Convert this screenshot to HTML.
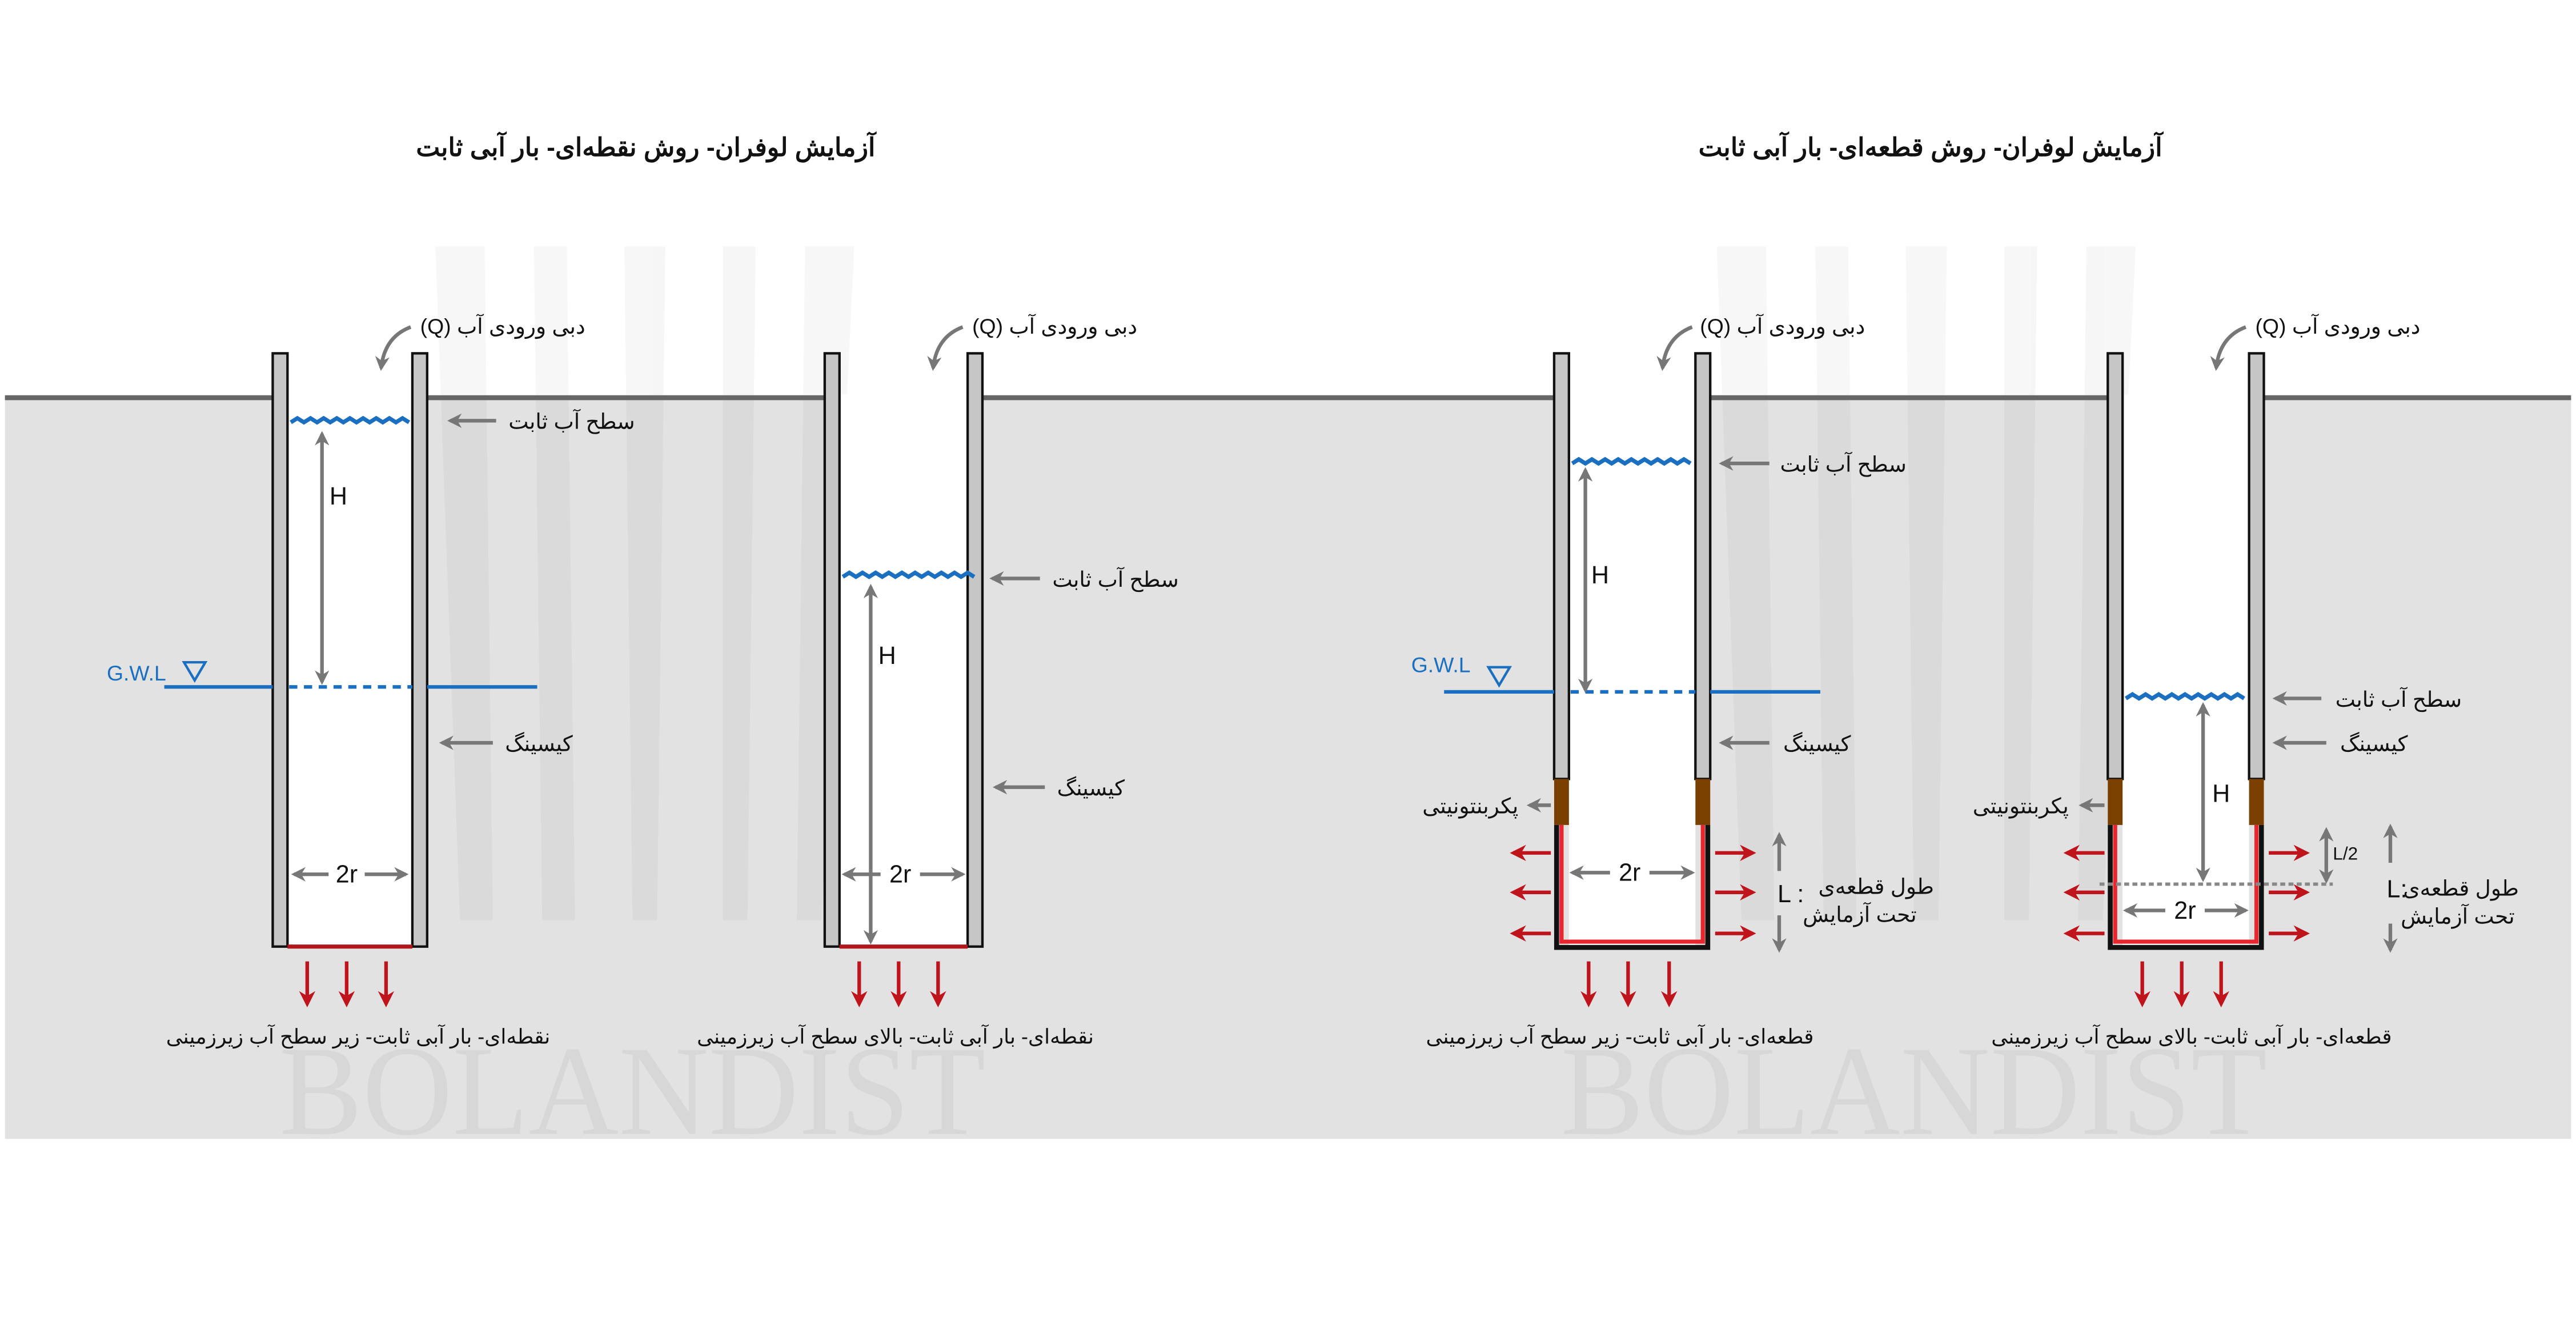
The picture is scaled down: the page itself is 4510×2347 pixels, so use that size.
<!DOCTYPE html>
<html><head><meta charset="utf-8"><style>html,body{margin:0;padding:0;background:#fff}svg{display:block}</style></head><body>
<svg width="4510" height="2347" viewBox="0 0 1568 816" preserveAspectRatio="none" xmlns="http://www.w3.org/2000/svg" font-family="'Liberation Sans','Noto Sans CJK SC',sans-serif">
<defs>
<marker id="ag" viewBox="0 0 10 10" refX="8" refY="5" markerWidth="4" markerHeight="4" orient="auto-start-reverse"><path d="M0 0 L10 5 L0 10 L3 5z" fill="#777"/></marker>
<marker id="ar" viewBox="0 0 10 10" refX="8" refY="5" markerWidth="4.5" markerHeight="4.5" orient="auto-start-reverse"><path d="M0 0 L10 5 L0 10 L3 5z" fill="#c0141c"/></marker>
</defs>
<rect x="3" y="242" width="1562" height="451" fill="#e2e2e2"/>
<!-- watermark -->
<g fill="#000" opacity="0.03">
<polygon points="265,150 295,150 300,560 280,560"/><polygon points="325,150 345,150 350,560 330,560"/><polygon points="380,150 405,150 400,560 385,560"/><polygon points="440,150 460,150 455,560 440,560"/><polygon points="490,150 520,150 500,560 485,560"/>
<polygon points="1045,150 1075,150 1080,560 1060,560"/><polygon points="1105,150 1125,150 1130,560 1110,560"/><polygon points="1160,150 1185,150 1180,560 1165,560"/><polygon points="1220,150 1240,150 1235,560 1220,560"/><polygon points="1270,150 1300,150 1280,560 1265,560"/>
</g>
<text x="385" y="690" font-family="'Liberation Serif',serif" font-size="78" fill="#000" opacity="0.045" text-anchor="middle" textLength="430" lengthAdjust="spacingAndGlyphs">BOLANDIST</text>
<text x="1165" y="690" font-family="'Liberation Serif',serif" font-size="78" fill="#000" opacity="0.045" text-anchor="middle" textLength="430" lengthAdjust="spacingAndGlyphs">BOLANDIST</text>
<line x1="3" y1="242" x2="1565" y2="242" stroke="#666" stroke-width="3"/>

<g font-weight="bold" font-size="15.5" text-anchor="middle" direction="rtl" fill="#111">
<text x="393" y="95">آزمایش لوفران- روش نقطه‌ای- بار آبی ثابت</text>
<text x="1175" y="95">آزمایش لوفران- روش قطعه‌ای- بار آبی ثابت</text>
</g>

<g fill="#fff">
<rect x="175" y="240" width="76" height="336"/>
<rect x="511" y="240" width="78" height="336"/>
<rect x="955" y="240" width="77" height="336"/>
<rect x="1292" y="240" width="77" height="336"/>
</g>
<g fill="#c6c6c6" stroke="#111" stroke-width="1.5">
<rect x="166" y="215" width="9" height="361"/><rect x="251" y="215" width="9" height="361"/>
<rect x="502" y="215" width="9" height="361"/><rect x="589" y="215" width="9" height="361"/>
<rect x="946" y="215" width="9" height="259"/><rect x="1032" y="215" width="9" height="259"/>
<rect x="1283" y="215" width="9" height="259"/><rect x="1369" y="215" width="9" height="259"/>
</g>
<g fill="#7b3f00">
<rect x="946" y="474" width="9" height="28"/><rect x="1032" y="474" width="9" height="28"/>
<rect x="1283" y="474" width="9" height="28"/><rect x="1369" y="474" width="9" height="28"/>
</g>
<path d="M947.5 502 V576.5 H1039.5 V502" fill="none" stroke="#111" stroke-width="3"/>
<path d="M950.5 502 V573 H1036.5 V502" fill="none" stroke="#e8262e" stroke-width="2.5"/>
<path d="M1284.5 502 V576.5 H1376.5 V502" fill="none" stroke="#111" stroke-width="3"/>
<path d="M1287.5 502 V573 H1373.5 V502" fill="none" stroke="#e8262e" stroke-width="2.5"/>
<line x1="175" y1="576" x2="251" y2="576" stroke="#b3151c" stroke-width="2.5"/>
<line x1="511" y1="576" x2="589" y2="576" stroke="#b3151c" stroke-width="2.5"/>

<g fill="none" stroke="#1a6fc0" stroke-width="2.5">
<path d="M177 257 l4 -2.5 l4 2.5 l4 -2.5 l4 2.5 l4 -2.5 l4 2.5 l4 -2.5 l4 2.5 l4 -2.5 l4 2.5 l4 -2.5 l4 2.5 l4 -2.5 l4 2.5 l4 -2.5 l4 2.5 l4 -2.5 l4 2.5"/>
<path d="M513 351 l4 -2.5 l4 2.5 l4 -2.5 l4 2.5 l4 -2.5 l4 2.5 l4 -2.5 l4 2.5 l4 -2.5 l4 2.5 l4 -2.5 l4 2.5 l4 -2.5 l4 2.5 l4 -2.5 l4 2.5 l4 -2.5 l4 2.5 l4 -2.5 l4 2.5"/>
<path d="M957 282 l4 -2.5 l4 2.5 l4 -2.5 l4 2.5 l4 -2.5 l4 2.5 l4 -2.5 l4 2.5 l4 -2.5 l4 2.5 l4 -2.5 l4 2.5 l4 -2.5 l4 2.5 l4 -2.5 l4 2.5 l4 -2.5 l4 2.5"/>
<path d="M1294 425 l4 -2.5 l4 2.5 l4 -2.5 l4 2.5 l4 -2.5 l4 2.5 l4 -2.5 l4 2.5 l4 -2.5 l4 2.5 l4 -2.5 l4 2.5 l4 -2.5 l4 2.5 l4 -2.5 l4 2.5 l4 -2.5 l4 2.5"/>
</g>
<g stroke="#1a6fc0" stroke-width="2.2">
<line x1="100" y1="418" x2="166" y2="418"/><line x1="260" y1="418" x2="327" y2="418"/>
<line x1="176" y1="418" x2="251" y2="418" stroke-dasharray="5 4"/>
<line x1="879" y1="421" x2="946" y2="421"/><line x1="1041" y1="421" x2="1108" y2="421"/>
<line x1="956" y1="421" x2="1032" y2="421" stroke-dasharray="5 4"/>
</g>
<g fill="none" stroke="#1a6fc0" stroke-width="1.5">
<path d="M112 403 H125 L118.5 414 Z"/><path d="M906 406 H919 L912.5 417 Z"/>
</g>
<g fill="#1a6fc0" font-size="13">
<text x="65" y="414">G.W.L</text><text x="859" y="409">G.W.L</text>
</g>

<g stroke="#777" stroke-width="2.2" fill="none" marker-end="url(#ag)">
<path d="M250 199 Q234 205 232 224"/><path d="M586 199 Q570 205 568 224"/>
<path d="M1030 199 Q1014 205 1012 224"/><path d="M1367 199 Q1351 205 1349 224"/>
<line x1="302" y1="256" x2="274" y2="256"/><line x1="633" y1="352" x2="604" y2="352"/>
<line x1="1077" y1="282" x2="1048" y2="282"/><line x1="1413" y1="425" x2="1385" y2="425"/>
<line x1="300" y1="452" x2="269" y2="452"/><line x1="636" y1="479" x2="606" y2="479"/>
<line x1="1077" y1="452" x2="1048" y2="452"/><line x1="1416" y1="452" x2="1385" y2="452"/>
<line x1="944" y1="490" x2="931" y2="490"/><line x1="1281" y1="490" x2="1267" y2="490"/>
<line x1="200" y1="532" x2="179" y2="532"/><line x1="222" y1="532" x2="247" y2="532"/>
<line x1="536" y1="532" x2="514" y2="532"/><line x1="560" y1="532" x2="586" y2="532"/>
<line x1="980" y1="531" x2="957" y2="531"/><line x1="1004" y1="531" x2="1030" y2="531"/>
<line x1="1318" y1="554" x2="1294" y2="554"/><line x1="1342" y1="554" x2="1367" y2="554"/>
<line x1="1083" y1="530" x2="1083" y2="508"/><line x1="1083" y1="557" x2="1083" y2="578"/>
<line x1="1455" y1="525" x2="1455" y2="503"/><line x1="1455" y1="562" x2="1455" y2="578"/>
<line x1="196" y1="264" x2="196" y2="415" marker-start="url(#ag)"/>
<line x1="530" y1="357" x2="530" y2="573" marker-start="url(#ag)"/>
<line x1="965" y1="286" x2="965" y2="420" marker-start="url(#ag)"/>
<line x1="1341" y1="429" x2="1341" y2="535" marker-start="url(#ag)"/>
<line x1="1416" y1="505" x2="1416" y2="536" marker-start="url(#ag)"/>
</g>
<line x1="1278" y1="538" x2="1420" y2="538" stroke="#888" stroke-width="2" stroke-dasharray="3 2"/>

<g stroke="#c0141c" stroke-width="2.2" marker-end="url(#ar)">
<line x1="187" y1="585" x2="187" y2="611"/><line x1="211" y1="585" x2="211" y2="611"/><line x1="235" y1="585" x2="235" y2="611"/>
<line x1="523" y1="585" x2="523" y2="611"/><line x1="547" y1="585" x2="547" y2="611"/><line x1="571" y1="585" x2="571" y2="611"/>
<line x1="967" y1="585" x2="967" y2="611"/><line x1="991" y1="585" x2="991" y2="611"/><line x1="1016" y1="585" x2="1016" y2="611"/>
<line x1="1304" y1="585" x2="1304" y2="611"/><line x1="1328" y1="585" x2="1328" y2="611"/><line x1="1352" y1="585" x2="1352" y2="611"/>
<line x1="944" y1="519" x2="921" y2="519"/><line x1="944" y1="543" x2="921" y2="543"/><line x1="944" y1="568" x2="921" y2="568"/>
<line x1="1044" y1="519" x2="1067" y2="519"/><line x1="1044" y1="543" x2="1067" y2="543"/><line x1="1044" y1="568" x2="1067" y2="568"/>
<line x1="1281" y1="519" x2="1258" y2="519"/><line x1="1281" y1="543" x2="1258" y2="543"/><line x1="1281" y1="568" x2="1258" y2="568"/>
<line x1="1381" y1="519" x2="1404" y2="519"/><line x1="1381" y1="543" x2="1404" y2="543"/><line x1="1381" y1="568" x2="1404" y2="568"/>
</g>

<g font-size="13" fill="#111" text-anchor="middle" direction="rtl">
<text x="306" y="203">دبی ورودی آب (Q)</text>
<text x="642" y="203">دبی ورودی آب (Q)</text>
<text x="1085" y="203">دبی ورودی آب (Q)</text>
<text x="1423" y="203">دبی ورودی آب (Q)</text>
<text x="348" y="261">سطح آب ثابت</text>
<text x="679" y="357">سطح آب ثابت</text>
<text x="1122" y="287">سطح آب ثابت</text>
<text x="1460" y="430">سطح آب ثابت</text>
<text x="328" y="457">کیسینگ</text>
<text x="664" y="484">کیسینگ</text>
<text x="1106" y="457">کیسینگ</text>
<text x="1445" y="457">کیسینگ</text>
<text x="895" y="495">پکربنتونیتی</text>
<text x="1230" y="495">پکربنتونیتی</text>
<text x="1142" y="544">طول قطعه‌ی</text>
<text x="1132" y="561">تحت آزمایش</text>
<text x="1498" y="545">طول قطعه‌ی</text>
<text x="1496" y="562">تحت آزمایش</text>
</g>
<g font-size="12.5" fill="#111" text-anchor="middle" direction="rtl">
<text x="218" y="635">نقطه‌ای- بار آبی ثابت- زیر سطح آب زیرزمینی</text>
<text x="545" y="635">نقطه‌ای- بار آبی ثابت- بالای سطح آب زیرزمینی</text>
<text x="986" y="635">قطعه‌ای- بار آبی ثابت- زیر سطح آب زیرزمینی</text>
<text x="1334" y="635">قطعه‌ای- بار آبی ثابت- بالای سطح آب زیرزمینی</text>
</g>
<g font-size="15" fill="#111" text-anchor="middle">
<text x="206" y="307">H</text><text x="540" y="404">H</text><text x="974" y="355">H</text><text x="1352" y="488">H</text>
<text x="211" y="537">2r</text><text x="548" y="537">2r</text><text x="992" y="536">2r</text><text x="1330" y="559">2r</text>
<text x="1090" y="549">L :</text><text x="1459" y="546">L:</text>
</g>
<text x="1420" y="523" font-size="11" fill="#111">L/2</text>
</svg>
</body></html>
